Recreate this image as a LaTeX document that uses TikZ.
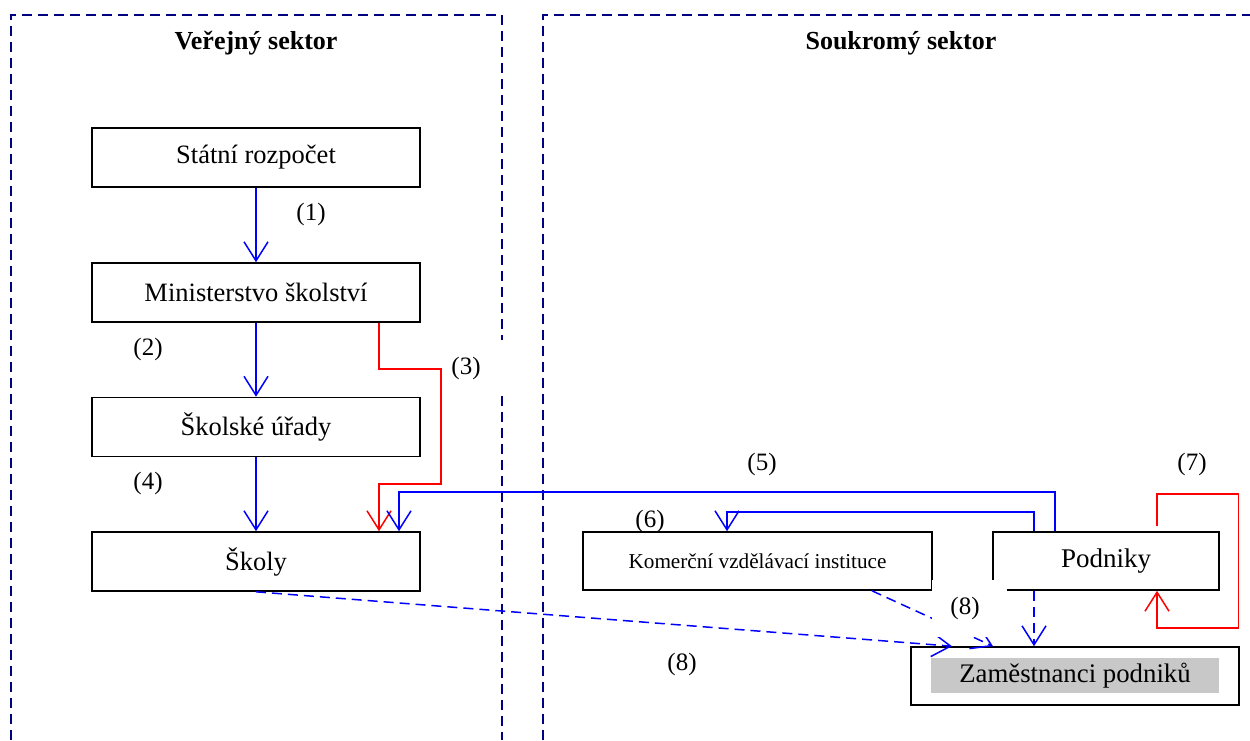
\documentclass[tikz,border=0pt]{standalone}
\usepackage{fontspec}
\setmainfont{Liberation Serif}
\usetikzlibrary{arrows.meta}
\definecolor{navyline}{RGB}{0,0,128}
\definecolor{flowblue}{RGB}{0,0,255}
\definecolor{flowred}{RGB}{255,0,0}
\definecolor{boxgray}{RGB}{200,200,200}
\begin{document}
\begin{tikzpicture}[x=1pt,y=-1pt,
  sector/.style={draw=navyline,line width=2.2pt,dash pattern=on 10pt off 6pt},
  stepbox/.style={draw=black,line width=1.6pt,minimum width=328pt,minimum height=59pt,
    inner sep=0pt,font=\fontsize{26.5}{30}\selectfont},
  title/.style={font=\bfseries\fontsize{26}{30}\selectfont},
  num/.style={font=\fontsize{25}{29}\selectfont,inner sep=0pt},
  tip/.style={-{Straight Barb[length=19pt,width=24pt]}},
  flow/.style={draw=flowblue,line width=1.5pt,tip},
  redflow/.style={draw=flowred,line width=1.5pt,tip},
  dflow/.style={draw=flowblue,line width=1.5pt,dash pattern=on 10pt off 6pt,tip}]
\useasboundingbox (0,0) rectangle (1250,740);

% sector frames
\draw[sector] (11,740) -- (11,15) -- (502,15) -- (502,340);
\draw[sector] (502,396) -- (502,740);
\draw[sector] (543,740) -- (543,15) -- (1250,15);
\node[title] (public) at (256,43) {Veřejný sektor};
\node[title] (private) at (901,43) {Soukromý sektor};

% public sector
\node[stepbox] (state) at (256,157.5) {Státní rozpočet};
\node[stepbox] (ministry) at (256,292.5) {Ministerstvo školství};
\node[stepbox] (offices) at (256,427) {Školské úřady};
\node[stepbox] (schools) at (256,561.5) {Školy};

% private sector
\node[stepbox,minimum width=349pt,minimum height=58pt,font=\fontsize{21.2}{26}\selectfont]
  (commercial) at (757.5,561) {Komerční vzdělávací instituce};
\node[stepbox,minimum width=226pt,minimum height=58pt,font=\fontsize{27}{31}\selectfont]
  (firms) at (1106,561) {Podniky};
\node[stepbox,minimum width=328pt,minimum height=58pt] (employees) at (1075,676) {};
\node[fill=boxgray,minimum width=288pt,minimum height=35pt,inner sep=0pt,
  font=\fontsize{26.8}{31}\selectfont] (employeeslabel) at (1075,675.5) {Zaměstnanci podniků};

% financing flows
\draw[flow] (state.south) -- (ministry.north);
\draw[flow] (ministry.south) -- (offices.north);
\draw[flow] (offices.south) -- (schools.north);
\draw[redflow] ([xshift=123pt]ministry.south) -- ++(0,46) -| (441,484) -| ([xshift=123pt]schools.north);
\draw[flow] ([xshift=-51pt]firms.north) -- ++(0,-39) -| ([xshift=143pt]schools.north);
\draw[flow] ([xshift=-72pt]firms.north) -- ++(0,-19) -| ([xshift=-30.5pt]commercial.north);
\draw[redflow] ([xshift=51pt,yshift=5pt]firms.north) -- ++(0,-32) -| (1238.5,628) -| ([xshift=51pt]firms.south);

% training flows towards employees
\draw[dflow] (schools.south) -- ([xshift=-123pt]employees.north);
\draw[dflow] ([xshift=114.5pt]commercial.south) -- ([xshift=-82pt]employees.north);
\draw[dflow] ([xshift=-72pt]firms.south) -- ([xshift=-41pt]employees.north);

% flow numbers
\node[num] (n1) at (311,214) {(1)};
\node[num] (n2) at (148,349) {(2)};
\node[num] (n3) at (466,368) {(3)};
\node[num] (n4) at (148,483) {(4)};
\node[num] (n5) at (762,464) {(5)};
\node[num] (n6) at (650,521) {(6)};
\node[num] (n7) at (1192,464) {(7)};
\node[num,fill=white,minimum width=75pt,minimum height=57pt] (n8a) at (969.5,608.5) {};
\node[num] (n8text) at (965,608) {(8)};
\node[num] (n8b) at (682,664) {(8)};
\end{tikzpicture}
\end{document}
